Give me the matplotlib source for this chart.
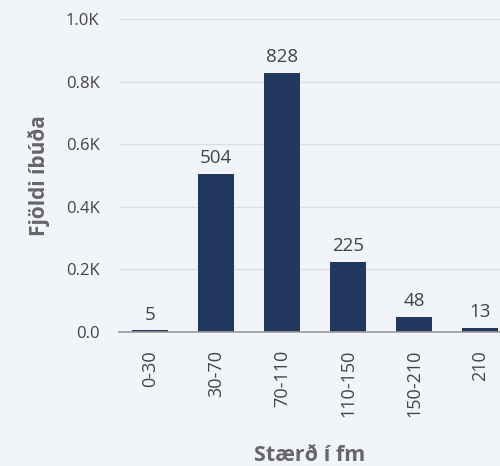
import numpy as np
import matplotlib.pyplot as plt
from matplotlib.ticker import FuncFormatter

plt.rcParams['font.family'] = ['Open Sans', 'DejaVu Sans']

categories = ['0-30', '30-70', '70-110', '110-150', '150-210', '210']
counts = [5, 504, 828, 225, 48, 13]

bg = '#F1F4F9'
bar_color = '#22385E'
text_color = '#444444'

fig = plt.figure(figsize=(5, 4.66), dpi=100, facecolor=bg)
ax = fig.add_axes([0.238, 0.2876, 0.762, 0.6717], facecolor=bg)

x = np.arange(len(categories))
ax.bar(x, counts, width=0.55, color=bar_color, zorder=3)
for xi, v in zip(x, counts):
    ax.text(xi, v + 22, str(v), ha='center', va='bottom', fontsize=13.5, color=text_color)

ax.set_xlim(-0.47, 5.3)
ax.set_ylim(0, 1000)
ax.set_yticks(np.arange(0, 1001, 200))
ax.yaxis.set_major_formatter(FuncFormatter(lambda v, p: '0.0' if v == 0 else f'{v/1000:.1f}K'))
ax.set_xticks(x)
ax.set_xticklabels(categories, rotation=90)
ax.grid(axis='y', color='#DCDFE5', linewidth=1, zorder=0)
for s in ['top', 'right', 'left']:
    ax.spines[s].set_visible(False)
ax.spines['bottom'].set_color('#9A9A9A')
ax.spines['bottom'].set_linewidth(1.2)
ax.spines['bottom'].set_zorder(4)
ax.tick_params(axis='y', length=0, labelsize=12, colors=text_color, pad=14)
ax.tick_params(axis='x', length=0, labelsize=13, colors=text_color, pad=13)

ax.set_ylabel('Fjöldi íbúða', fontsize=15, fontweight='bold', color='#666666', labelpad=11)
ax.set_xlabel('Stærð í fm', fontsize=15.5, fontweight='bold', color='#666666', labelpad=20)

fig.savefig('out.png', dpi=100, facecolor=bg)
